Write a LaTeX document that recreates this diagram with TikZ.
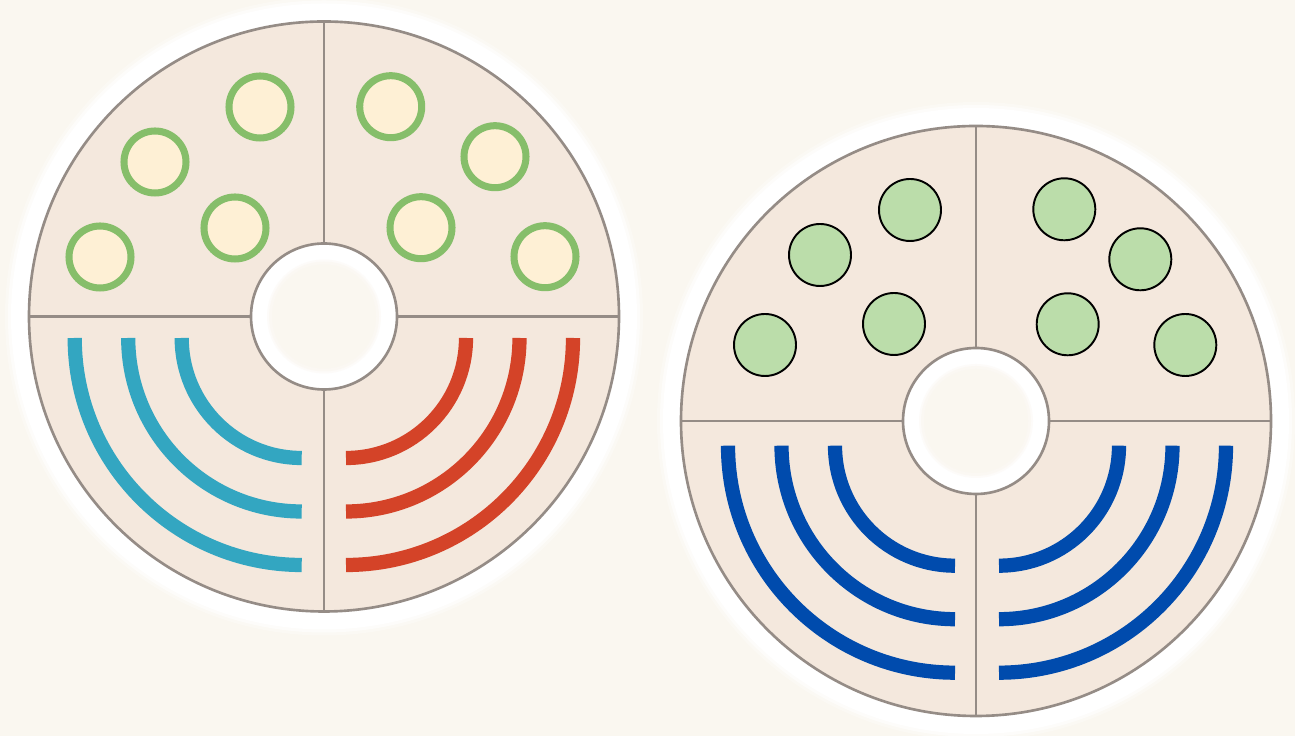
\documentclass[tikz,border=0pt]{standalone}
\usepackage{tikz}

\definecolor{bg}{HTML}{FAF7F0}
\definecolor{diskfill}{HTML}{F4E8DD}
\definecolor{linegray}{HTML}{958C86}
\definecolor{ringgreen}{HTML}{86BE6A}
\definecolor{ringfill}{HTML}{FEF0D5}
\definecolor{dotgreen}{HTML}{BBDDAA}
\definecolor{arcteal}{HTML}{33A6C1}
\definecolor{arcred}{HTML}{D44328}
\definecolor{arcblue}{HTML}{004BAD}

\begin{document}
\begin{tikzpicture}[x=0.02cm, y=0.02cm]

    % rozměry obrázku (v pixelech)
    \def\W{1295}
    \def\H{736}

    % poloměry kotouče
    \def\Rout{295}
    \def\Rin{73}

    % styly
    \tikzset{
        hrana/.style={draw=linegray, line width=1.5pt},
        oblouk/.style={line width=8.1pt, line cap=butt},
        kruh/.style={draw=ringgreen, line width=4pt, fill=ringfill},
        bod/.style={draw=black, line width=1.1pt, fill=dotgreen}
    }

    % pomocné makro pro kotouč se světlým lemem
    % #1, #2 = střed kotouče
    \newcommand{\kotouc}[2]{%
        \begin{scope}[shift={(#1,#2)}]
            \fill[white, opacity=0.3] (0,0) circle[radius=\Rout+24];
            \fill[white, opacity=0.6] (0,0) circle[radius=\Rout+21];
            \fill[white] (0,0) circle[radius=\Rout+18];
            \fill[diskfill] (0,0) circle[radius=\Rout];
            \fill[white] (0,0) circle[radius=\Rin];
            \fill[bg, opacity=0.4] (0,0) circle[radius=57];
            \fill[bg, opacity=0.6] (0,0) circle[radius=55];
            \fill[bg] (0,0) circle[radius=52];
            \draw[hrana] (0,0) circle[radius=\Rout];
            \draw[hrana] (0,0) circle[radius=\Rin];
            \foreach \a in {0,90,180,270} {
                \draw[hrana] (\a:\Rin) -- (\a:\Rout);
            }
        \end{scope}
    }

    % pozadí
    \fill[bg] (0,0) rectangle (\W,\H);
    \useasboundingbox (0,0) rectangle (\W,\H);

    % --- levý kotouč ---
    \kotouc{324}{419.5}
    \begin{scope}[shift={(324,419.5)}]
        % kroužky nahoře
        \foreach \x/\y in {-64/209.5, -169/154.5, -89/88.5, -224/59.5,
                           66.7/209.8, 171/159.8, 97/88.8, 221/59.8} {
            \draw[kruh] (\x,\y) circle[radius=31];
        }
        % oblouky dole
        \foreach \rr in {120,173.5,227} {
            \draw[oblouk, arcteal] (-22.3-\rr,-21.5) arc[start angle=180, end angle=270, radius=\rr];
            \draw[oblouk, arcred] (22,-21.5-\rr) arc[start angle=270, end angle=360, radius=\rr];
        }
    \end{scope}

    % --- pravý kotouč ---
    \kotouc{976}{315}
    \begin{scope}[shift={(976,315)}]
        % body nahoře
        \foreach \x/\y in {-66/211, -156/166, -82/97, -211/76,
                           88.3/211.7, 164.3/161.7, 91.7/96.7, 209.3/76} {
            \draw[bod] (\x,\y) circle[radius=31];
        }
        % oblouky dole
        \foreach \rr in {120,173.5,227} {
            \draw[oblouk, arcblue] (-21-\rr,-24.7) arc[start angle=180, end angle=270, radius=\rr];
            \draw[oblouk, arcblue] (23,-24.7-\rr) arc[start angle=270, end angle=360, radius=\rr];
        }
    \end{scope}

\end{tikzpicture}
\end{document}
